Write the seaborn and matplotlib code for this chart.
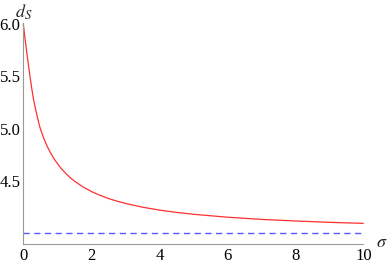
import matplotlib
matplotlib.use("Agg")
import matplotlib.pyplot as plt
import pandas as pd
import seaborn as sns
from matplotlib.ticker import MultipleLocator

# values
sigma = [0, 0.025, 0.05, 0.075, 0.1, 0.125, 0.15, 0.2, 0.25, 0.3, 0.35, 0.4,
         0.45, 0.5, 0.6, 0.7, 0.8, 0.9, 1.0, 1.1, 1.25, 1.4, 1.5, 1.75, 2.0,
         2.25, 2.5, 2.75, 3.0, 3.5, 4.0, 4.5, 5.0, 6.0, 7.0, 8.0, 9.0, 10.0]
d_s = [6.00, 5.93, 5.86, 5.80, 5.73, 5.67, 5.61, 5.49, 5.38, 5.28, 5.20, 5.13,
       5.06, 5.00, 4.909, 4.833, 4.769, 4.714, 4.667, 4.625, 4.571, 4.526,
       4.500, 4.444, 4.400, 4.364, 4.333, 4.308, 4.286, 4.250, 4.222, 4.200,
       4.182, 4.154, 4.133, 4.118, 4.105, 4.095]
limit_sigma = [0, 10]
limit_d = [4.0, 4.0]

curve = pd.DataFrame({"sigma": sigma, "d_S": d_s})
limit = pd.DataFrame({"sigma": limit_sigma, "d_S": limit_d})

sns.set_style("white")
plt.rcParams["font.family"] = ["Liberation Serif", "DejaVu Serif"]
plt.rcParams["mathtext.fontset"] = "stix"

fig = plt.figure(figsize=(3.9, 2.66), dpi=100)
ax = fig.add_axes([0.0598, 0.0816, 0.8718, 0.8319])

sns.lineplot(data=curve, x="sigma", y="d_S", ax=ax, color="#ff3030",
             linewidth=0.9, clip_on=False)
sns.lineplot(data=limit, x="sigma", y="d_S", ax=ax, color="#5858ff",
             linewidth=1.0, clip_on=False)
ax.lines[1].set_dashes((4.5, 3.2))

ax.set_xlim(0, 10)
ax.set_ylim(3.895, 6.01)
ax.set_xlabel("")
ax.set_ylabel("")

for side in ["top", "right"]:
    ax.spines[side].set_visible(False)
for side in ["left", "bottom"]:
    ax.spines[side].set_color("#999999")
    ax.spines[side].set_linewidth(0.8)

ax.xaxis.set_major_locator(MultipleLocator(2))
ax.xaxis.set_minor_locator(MultipleLocator(0.5))
ax.set_yticks([4.5, 5.0, 5.5, 6.0])
ax.set_yticks([4.0, 4.1, 4.2, 4.3, 4.4, 4.6, 4.7, 4.8, 4.9, 5.1, 5.2, 5.3,
               5.4, 5.6, 5.7, 5.8, 5.9], minor=True)
ax.set_yticklabels(["4.5", "5.0", "5.5", "6.0"])
ax.tick_params(which="both", direction="in", color="#999999", width=0.7,
               labelsize=12, labelcolor="black")
ax.tick_params(which="major", length=4, pad=3)
ax.tick_params(which="minor", length=2, color="#bbbbbb")
ax.tick_params(axis="y", pad=2)

fig.text(24 / 390, 1 - 3 / 266, "$d_S$", fontsize=13, ha="center", va="top")
ax.text(10.55, 3.91, "$\\sigma$", fontsize=13, ha="center", va="center",
        transform=ax.transData, clip_on=False)

fig.savefig("out.png", dpi=100)
